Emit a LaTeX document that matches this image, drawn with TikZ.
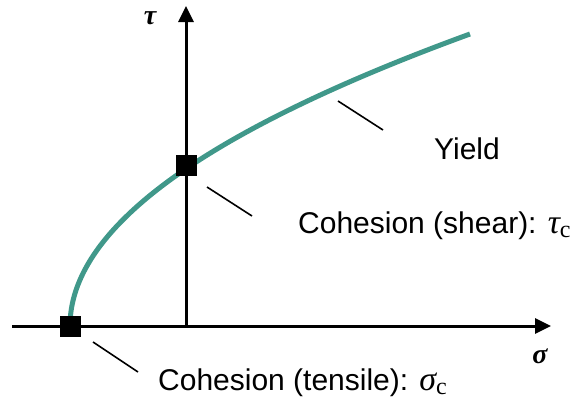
\documentclass[tikz,border=0pt]{standalone}
\usepackage{fontspec}
\setmainfont{Liberation Sans}
\newfontfamily\greekbi{Liberation Serif}[UprightFont=* Bold Italic]
\newfontfamily\serifit{Liberation Serif}[UprightFont=* Italic]
\newfontfamily\serifrm{Liberation Serif}
\newcommand{\symsub}[1]{{\fontsize{34}{36}\serifit #1}\raisebox{-0.28ex}{\fontsize{24}{26}\serifrm c}}
\usetikzlibrary{arrows.meta}
\definecolor{yieldteal}{RGB}{64,152,138}
\tikzset{
  axis/.style={line width=3pt,-{Triangle[length=16pt,width=15pt]}},
  marker/.style={fill=black,minimum size=21pt,inner sep=0pt,draw=none},
  leader/.style={line width=1.6pt},
  lbl/.style={font=\fontsize{30}{34}\selectfont,anchor=base west,inner sep=0pt},
  axlbl/.style={font=\fontsize{28}{30}\greekbi,inner sep=0pt}
}
\begin{document}
\begin{tikzpicture}[x=1pt,y=-1pt]
\useasboundingbox (0,0) rectangle (588,400);
\coordinate (o) at (186,326);
\coordinate (xs) at (12,326);
\coordinate (xe) at (551,326);
\coordinate (ye) at (186,6);
\draw[axis] (xs) -- (xe);
\draw[axis] (o) -- (ye);
\draw[yieldteal,line width=5pt] plot[domain=0:20,samples=80,smooth] ({70+\x*\x},{326-14.6*\x});
\node[marker] (mt) at (70,326) {};
\node[marker] (ms) at (186,165) {};
\node[axlbl] (tau) at (150,18) {τ};
\node[axlbl] (sig) at (540,356) {σ};
\node[lbl] (yield) at (434,159) {Yield};
\node[lbl] (shear) at (298,233) {Cohesion (shear): \symsub{τ}};
\node[lbl] (tens) at (158,390) {Cohesion (tensile): \symsub{σ}};
\coordinate (y1) at (338,101);
\coordinate (y2) at (383,130);
\coordinate (s1) at (207,187);
\coordinate (s2) at (252,216);
\coordinate (t1) at (93,342);
\coordinate (t2) at (138,372);
\draw[leader] (y1) -- (y2);
\draw[leader] (s1) -- (s2);
\draw[leader] (t1) -- (t2);
\end{tikzpicture}
\end{document}
